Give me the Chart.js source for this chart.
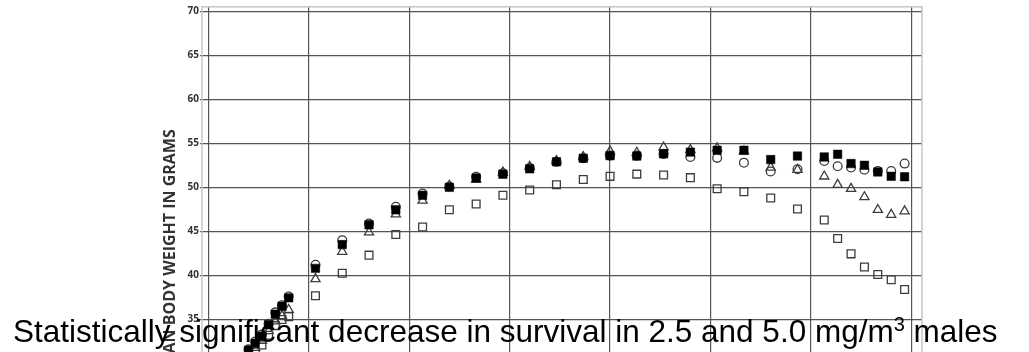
<!DOCTYPE html>
<html lang="en">
<head>
<meta charset="UTF-8">
<title>Mean Body Weight</title>
<script src="https://cdn.jsdelivr.net/npm/chart.js"></script>
<style>
  html, body { margin: 0; padding: 0; background: #fff; overflow: hidden; }
  #wrap { position: relative; width: 1029px; height: 520px; }
  #note {
    position: absolute; left: 13px; top: 316px;
    font-family: 'Liberation Sans', Arial, sans-serif;
    font-size: 31.5px; line-height: 31.5px; color: #000; white-space: nowrap;
  }
  #note .sup { font-size: 20px; position: relative; top: -11px; }
</style>
</head>
<body>
<div id="wrap">
  <canvas id="weights"></canvas>
  <div id="note">Statistically significant decrease in survival in 2.5 and 5.0 mg/m<span class="sup">3</span> males</div>
</div>

<script>
// weeks on study
const weeks = [1, 2, 3, 4, 5, 6, 7, 8, 9, 10, 11, 12,
  16, 20, 24, 28, 32, 36, 40, 44, 48, 52, 56, 60, 64, 68, 72, 76, 80, 84, 88,
  92, 94, 96, 98, 100, 102, 104];

// mean body weight (g) per group
const control = [25.0, 26.8, 28.2, 29.5, 30.6, 31.6, 32.5, 33.3, 34.5, 35.8, 36.6, 37.6,
  41.2, 44.0, 45.9, 47.8, 49.3, 50.1, 51.2, 51.6, 52.2, 52.9, 53.3, 53.6, 53.6, 53.8, 53.45, 53.35, 52.8, 51.8, 52.05,
  53.0, 52.4, 52.25, 52.0, 51.85, 51.85, 52.7];
const dose10 = [24.8, 26.6, 28.0, 29.3, 30.4, 31.5, 32.3, 33.1, 34.4, 35.6, 36.5, 37.45,
  40.8, 43.5, 45.75, 47.45, 49.1, 50.0, 51.05, 51.5, 52.1, 52.9, 53.3, 53.6, 53.55, 53.8, 54.0, 54.2, 54.2, 53.15, 53.55,
  53.45, 53.75, 52.7, 52.5, 51.75, 51.25, 51.2];
const dose25 = [24.6, 26.2, 27.6, 28.9, 30.0, 30.9, 31.8, 32.6, 33.7, 34.8, 35.4, 36.1,
  39.6, 42.7, 44.9, 46.95, 48.5, 50.2, 50.9, 51.7, 52.35, 53.0, 53.45, 54.1, 53.95, 54.55, 54.25, 54.45, 54.1, 52.25, 52.0,
  51.25, 50.3, 49.85, 48.9, 47.45, 46.9, 47.3];
const dose50 = [24.4, 26.0, 27.3, 28.5, 29.6, 30.5, 31.3, 32.1, 33.2, 34.3, 35.0, 35.3,
  37.7, 40.25, 42.3, 44.65, 45.5, 47.45, 48.1, 49.1, 49.7, 50.3, 50.9, 51.25, 51.5, 51.4, 51.1, 49.85, 49.5, 48.8, 47.55,
  46.3, 44.2, 42.45, 40.95, 40.1, 39.5, 38.4];

const xTicks = [0, 15, 30, 45, 60, 75, 90, 105];
const yTicks = [15, 20, 25, 30, 35, 40, 45, 50, 55, 60, 65, 70];

const toPoints = vals => vals.map((v, i) => ({ x: weeks[i], y: v }));

const openMark = (style, r) => ({
  pointStyle: style,
  pointRadius: r,
  pointBackgroundColor: 'rgba(255,255,255,0)',
  pointBorderColor: '#3c3c3c',
  pointBorderWidth: 1.3
});

// light outer frame around the plot area
const framePlugin = {
  id: 'frame',
  beforeDatasetsDraw(chart) {
    const { ctx, chartArea: a } = chart;
    ctx.save();
    ctx.strokeStyle = '#c6c6c6';
    ctx.lineWidth = 1.5;
    ctx.strokeRect(a.left, a.top, a.right - a.left, a.bottom - a.top);
    ctx.restore();
  }
};

new Chart(document.getElementById('weights'), {
  type: 'scatter',
  data: {
    datasets: [
      { label: '1.0 mg/m³', data: toPoints(dose10), pointStyle: 'rect', pointRadius: 6,
        pointBackgroundColor: '#000', pointBorderColor: '#000', pointBorderWidth: 0.5 },
      { label: '5.0 mg/m³', data: toPoints(dose50), ...openMark('rect', 5.5) },
      { label: '2.5 mg/m³', data: toPoints(dose25), ...openMark('triangle', 5.3) },
      { label: '0 mg/m³', data: toPoints(control), ...openMark('circle', 4.4) }
    ]
  },
  options: {
    responsive: true,
    maintainAspectRatio: false,
    animation: false,
    layout: { padding: { left: 158, right: 107, top: 6.5, bottom: 0 } },
    plugins: { legend: { display: false }, tooltip: { enabled: false } },
    scales: {
      x: {
        type: 'linear',
        min: -0.95,
        max: 106.6,
        afterBuildTicks: s => { s.ticks = xTicks.map(v => ({ value: v })); },
        afterFit: s => { s.height = 20; },
        border: { display: false },
        grid: { color: '#555', lineWidth: 1.2, tickLength: 2 },
        ticks: { font: { family: 'Open Sans', size: 10, weight: 'bold', lineHeight: 1 }, color: '#333', padding: 2 }
      },
      y: {
        min: 14.5,
        max: 70.5,
        afterBuildTicks: s => { s.ticks = yTicks.map(v => ({ value: v })); },
        afterFit: s => { s.width = 44; },
        border: { display: false },
        grid: { color: '#555', lineWidth: 1.2, tickLength: 2 },
        ticks: { font: { family: 'Open Sans', size: 10, weight: 'bold', lineHeight: 1 }, color: '#333', padding: 1 },
        title: {
          display: true,
          text: 'MEAN BODY WEIGHT IN GRAMS',
          color: '#333',
          padding: { top: 3, bottom: 0 },
          font: { family: 'Open Sans', size: 16, weight: 'bold' }
        }
      }
    }
  },
  plugins: [framePlugin]
});
</script>
</body>
</html>
